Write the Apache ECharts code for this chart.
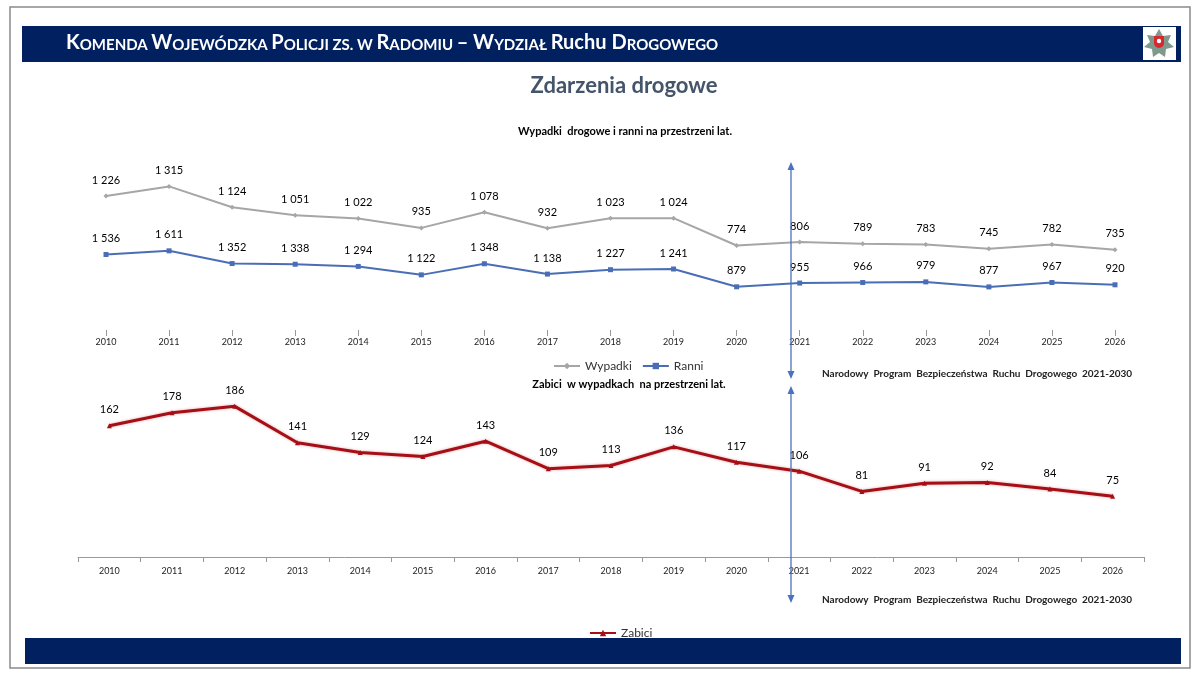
<!DOCTYPE html>
<html>
<head>
<meta charset="utf-8">
<script src="https://cdn.jsdelivr.net/npm/echarts@6/dist/echarts.min.js"></script>
<style>
  html, body { margin: 0; padding: 0; background: #fff; }
  #main { width: 1200px; height: 675px; }
</style>
</head>
<body>
<div id="main"></div>
<script>
// dane - wypadki / ranni / zabici
var years = ['2010','2011','2012','2013','2014','2015','2016','2017','2018','2019','2020','2021','2022','2023','2024','2025','2026'];
var wypadki = [1226, 1315, 1124, 1051, 1022, 935, 1078, 932, 1023, 1024, 774, 806, 789, 783, 745, 782, 735];
var ranni = [1536, 1611, 1352, 1338, 1294, 1122, 1348, 1138, 1227, 1241, 879, 955, 966, 979, 877, 967, 920];
var zabici = [162, 178, 186, 141, 129, 124, 143, 109, 113, 136, 117, 106, 81, 91, 92, 84, 75];

var FONT = 'Lato, "Open Sans", sans-serif';
var navy = '#002060';
var arrowColor = '#4a72bf';

function fmt(p) {
    return String(p.value).replace(/\B(?=(\d{3})+(?!\d))/g, ' ');
}

var dom = document.getElementById('main');
var myChart = echarts.init(dom);
var option = {
    backgroundColor: '#fff',
    animation: false,
    textStyle: { fontFamily: FONT },
    title: [
        {
            text: 'Zdarzenia drogowe',
            left: 619, top: 70, textAlign: 'center',
            textStyle: { fontFamily: FONT, fontSize: 22, fontWeight: 'bold', color: '#44546a' }
        },
        {
            text: 'Wypadki  drogowe i ranni na przestrzeni lat.',
            left: 620, top: 121, textAlign: 'center',
            textStyle: { fontFamily: FONT, fontSize: 11, fontWeight: 'bold', color: '#000' }
        },
        {
            text: 'Zabici  w wypadkach  na przestrzeni lat.',
            left: 624, top: 374, textAlign: 'center',
            textStyle: { fontFamily: FONT, fontSize: 11, fontWeight: 'bold', color: '#000' }
        },
        {
            text: 'Narodowy  Program  Bezpieczeństwa  Ruchu  Drogowego  2021-2030',
            left: 817, top: 364,
            textStyle: { fontFamily: FONT, fontSize: 10, fontWeight: 'bold', color: '#222' }
        },
        {
            text: 'Narodowy  Program  Bezpieczeństwa  Ruchu  Drogowego  2021-2030',
            left: 817, top: 590,
            textStyle: { fontFamily: FONT, fontSize: 10, fontWeight: 'bold', color: '#222' }
        }
    ],
    legend: [
        {
            data: ['Wypadki', 'Ranni'],
            left: 548, top: 355,
            itemWidth: 26, itemHeight: 8, itemGap: 10,
            textStyle: { fontFamily: FONT, fontSize: 12, color: '#333' }
        },
        {
            data: ['Zabici'],
            left: 584, top: 622,
            itemWidth: 26, itemHeight: 8,
            textStyle: { fontFamily: FONT, fontSize: 12, color: '#333' }
        }
    ],
    grid: [
        { left: 106, right: 85, top: 158, height: 172 },
        { left: 78, right: 56, top: 395, height: 162 }
    ],
    xAxis: [
        {
            type: 'category', gridIndex: 0, data: years, boundaryGap: false,
            axisLine: { show: false },
            axisTick: { show: true, length: 6, alignWithLabel: true, lineStyle: { color: '#999' } },
            axisLabel: { fontSize: 9, color: '#222', margin: 8 }
        },
        {
            type: 'category', gridIndex: 1, data: years, boundaryGap: true,
            axisLine: { show: true, lineStyle: { color: '#999' } },
            axisTick: { show: true, length: 5, lineStyle: { color: '#999' } },
            axisLabel: { fontSize: 9, color: '#222', margin: 10 }
        }
    ],
    yAxis: [
        { type: 'value', gridIndex: 0, min: 0, max: 3500, show: false },
        { type: 'value', gridIndex: 0, min: 0, max: 1575, show: false },
        { type: 'value', gridIndex: 1, min: 0, max: 200, show: false }
    ],
    series: [
        {
            name: 'Wypadki', type: 'line', xAxisIndex: 0, yAxisIndex: 1,
            data: wypadki,
            color: '#a6a6a6',
            lineStyle: { width: 2, color: '#a6a6a6' },
            symbol: 'diamond', symbolSize: 5,
            label: { show: true, position: 'top', distance: 8, formatter: fmt, fontSize: 11, color: '#000' }
        },
        {
            name: 'Ranni', type: 'line', xAxisIndex: 0, yAxisIndex: 0,
            data: ranni,
            color: '#4a6eb5',
            lineStyle: { width: 2, color: '#4a6eb5' },
            symbol: 'rect', symbolSize: 5,
            label: { show: true, position: 'top', distance: 8, formatter: fmt, fontSize: 11, color: '#000' }
        },
        {
            name: 'Zabici', type: 'line', xAxisIndex: 1, yAxisIndex: 2,
            data: zabici,
            color: '#a50f15',
            lineStyle: { width: 3, color: '#a50f15', shadowColor: 'rgba(165,15,21,0.35)', shadowBlur: 3 },
            symbol: 'triangle', symbolSize: 5,
            label: { show: true, position: 'top', distance: 8, fontSize: 11, color: '#000' }
        }
    ],
    graphic: [
        // ramka
        { type: 'rect', shape: { x: 10, y: 7, width: 1180, height: 661 },
          style: { fill: 'none', stroke: '#8a8a8a', lineWidth: 1.5 }, z: -10 },
        // pasek naglowka
        { type: 'rect', shape: { x: 22, y: 26, width: 1159, height: 36 },
          style: { fill: navy }, z: -5 },
        {
            type: 'text', left: 66, top: 33, z: 10,
            style: {
                text: '{b|K}{s|OMENDA }{b|W}{s|OJEWÓDZKA }{b|P}{s|OLICJI ZS. W }{b|R}{s|ADOMIU }{b|– }{b|W}{s|YDZIAŁ }{b|Ruchu }{b|D}{s|ROGOWEGO}',
                fill: '#fff',
                rich: {
                    b: { fontFamily: FONT, fontSize: 20, fontWeight: 'bold', fill: '#fff', lineHeight: 20, verticalAlign: 'bottom' },
                    s: { fontFamily: FONT, fontSize: 15, fontWeight: 'bold', fill: '#fff', lineHeight: 15, verticalAlign: 'bottom' }
                }
            }
        },
        // logo
        { type: 'rect', shape: { x: 1143, y: 27, width: 33, height: 33 }, style: { fill: '#fff' }, z: 1 },
        { type: 'polygon', z: 2,
          shape: { points: [[1159,29],[1163,36],[1171,35],[1168,42],[1174,47],[1166,49],[1165,57],[1159,53],[1153,57],[1152,49],[1144,47],[1150,42],[1147,35],[1155,36]] },
          style: { fill: '#7f9a8c' } },
        { type: 'rect', shape: { x: 1154, y: 36, width: 10, height: 12, r: [0,0,5,5] }, style: { fill: '#d6282e' }, z: 3 },
        { type: 'circle', shape: { cx: 1159, cy: 41, r: 2.2 }, style: { fill: '#fff' }, z: 4 },
        // pasek stopki
        { type: 'rect', shape: { x: 25, y: 638, width: 1156, height: 26 },
          style: { fill: navy }, z: -5 },
        // strzalki NPBRD
        { type: 'line', shape: { x1: 791, y1: 168, x2: 791, y2: 373 }, style: { stroke: arrowColor, lineWidth: 1.3 }, z: 20 },
        { type: 'polygon', shape: { points: [[791,162],[787.5,170],[794.5,170]] }, style: { fill: arrowColor }, z: 20 },
        { type: 'polygon', shape: { points: [[791,379],[787.5,371],[794.5,371]] }, style: { fill: arrowColor }, z: 20 },
        { type: 'line', shape: { x1: 791, y1: 392, x2: 791, y2: 597 }, style: { stroke: arrowColor, lineWidth: 1.3 }, z: 20 },
        { type: 'polygon', shape: { points: [[791,386],[787.5,394],[794.5,394]] }, style: { fill: arrowColor }, z: 20 },
        { type: 'polygon', shape: { points: [[791,603],[787.5,595],[794.5,595]] }, style: { fill: arrowColor }, z: 20 }
    ]
};
if (option && typeof option === "object") {
    myChart.setOption(option);
}
</script>
</body>
</html>
